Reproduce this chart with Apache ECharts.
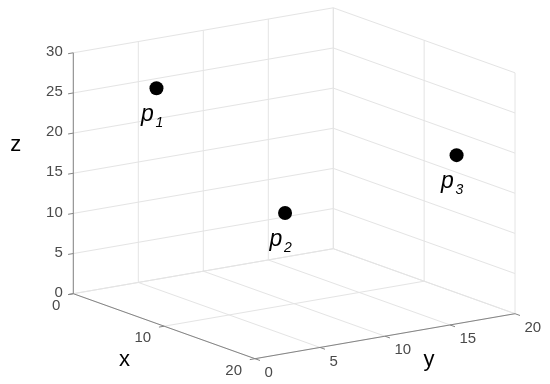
<!DOCTYPE html>
<html>
<head>
<meta charset="utf-8">
<script src="https://cdn.jsdelivr.net/npm/echarts@6/dist/echarts.min.js"></script>
<style>
  html, body { margin: 0; padding: 0; background: #fff; }
  #chart { width: 550px; height: 384px; }
</style>
</head>
<body>
<div id="chart"></div>
<script>
// tick values of the three axes
const xTicks = [0, 10, 20];
const yTicks = [0, 5, 10, 15, 20];
const zTicks = [0, 5, 10, 15, 20, 25, 30];

// the three points p1, p2, p3
const pointIds = ['1', '2', '3'];
const pointX = [2, 10, 15];
const pointY = [5, 9.3, 19];
const pointZ = [25, 11.5, 18];

const FONT = '"Liberation Sans", Arial, Helvetica, sans-serif';
const GRID_COLOR = '#e4e4e4';
const AXIS_COLOR = '#858585';
const LABEL_COLOR = '#4a4a4a';

// oblique view: screen pixels per data unit (y up)
const EX = [9.085, -3.25];
const EY = [13, 2.25];
const EZ = [0, 8.03];
function proj(x, y, z) {
    return [x * EX[0] + y * EY[0] + z * EZ[0], x * EX[1] + y * EY[1] + z * EZ[1]];
}

const xMax = xTicks[xTicks.length - 1];
const yMax = yTicks[yTicks.length - 1];
const zMax = zTicks[zTicks.length - 1];

// grid lines on the two back walls and the floor
const segments = [];
zTicks.forEach(z => segments.push([0, 0, z, 0, yMax, z]));
yTicks.forEach(y => segments.push([0, y, 0, 0, y, zMax]));
zTicks.forEach(z => segments.push([0, yMax, z, xMax, yMax, z]));
xTicks.forEach(x => segments.push([x, yMax, 0, x, yMax, zMax]));
xTicks.forEach(x => segments.push([x, 0, 0, x, yMax, 0]));
yTicks.forEach(y => segments.push([0, y, 0, xMax, y, 0]));

function pt(api, x, y, z) {
    return api.coord(proj(x, y, z));
}

function lineEl(a, b, color) {
    return {
        type: 'line',
        shape: { x1: a[0], y1: a[1], x2: b[0], y2: b[1] },
        style: { stroke: color, lineWidth: 1 }
    };
}

function textEl(text, x, y, opts) {
    return {
        type: 'text',
        style: Object.assign({
            text: text, x: x, y: y,
            fill: LABEL_COLOR,
            font: '15px ' + FONT,
            align: 'center', textAlign: 'center',
            verticalAlign: 'middle', textVerticalAlign: 'middle'
        }, opts)
    };
}

// one series per axis: axis line, ticks and tick labels
function axisSeries(ticks, at, tickEnd, labelDx, labelDy, align) {
    return {
        type: 'custom',
        coordinateSystem: 'cartesian2d',
        silent: true,
        data: ticks.map(t => [t, 0]),
        renderItem: function (params, api) {
            const t = api.value(0);
            const a = pt.apply(null, [api].concat(at(t)));
            const b = pt.apply(null, [api].concat(tickEnd(t)));
            const children = [
                lineEl(a, b, AXIS_COLOR),
                textEl(String(t), a[0] + labelDx, a[1] + labelDy, { align: align, textAlign: align })
            ];
            if (params.dataIndex === 0) {
                const s = pt.apply(null, [api].concat(at(ticks[0])));
                const e = pt.apply(null, [api].concat(at(ticks[ticks.length - 1])));
                children.push(lineEl(s, e, AXIS_COLOR));
            }
            return { type: 'group', children: children };
        }
    };
}

const chart = echarts.init(document.getElementById('chart'));

chart.setOption({
    animation: false,
    backgroundColor: '#fff',
    grid: { left: 0, right: 0, top: 0, bottom: 0 },
    xAxis: { type: 'value', min: -73.3, max: 476.7, show: false },
    yAxis: { type: 'value', min: -90.3, max: 293.7, show: false },
    graphic: [
        { type: 'text', x: 15.7, y: 145, style: { text: 'z', font: '22px ' + FONT, fill: '#000', textAlign: 'center', textVerticalAlign: 'middle' } },
        { type: 'text', x: 124.5, y: 360, style: { text: 'x', font: '22px ' + FONT, fill: '#000', textAlign: 'center', textVerticalAlign: 'middle' } },
        { type: 'text', x: 429, y: 360, style: { text: 'y', font: '22px ' + FONT, fill: '#000', textAlign: 'center', textVerticalAlign: 'middle' } }
    ],
    series: [
        {
            type: 'custom',
            coordinateSystem: 'cartesian2d',
            silent: true,
            data: segments,
            renderItem: function (params, api) {
                const a = pt(api, api.value(0), api.value(1), api.value(2));
                const b = pt(api, api.value(3), api.value(4), api.value(5));
                return lineEl(a, b, GRID_COLOR);
            }
        },
        axisSeries(zTicks, t => [0, 0, t], t => [0, -0.4, t], -10.5, -1, 'right'),
        axisSeries(xTicks, t => [t, 0, 0], t => [t, -0.4, 0], -13, 12, 'right'),
        axisSeries(yTicks, t => [xMax, t, 0], t => [xMax + 0.55, t, 0], 9.5, 14, 'left'),
        {
            type: 'custom',
            coordinateSystem: 'cartesian2d',
            silent: true,
            data: pointX.map((x, i) => [x, pointY[i], pointZ[i], i]),
            renderItem: function (params, api) {
                const c = pt(api, api.value(0), api.value(1), api.value(2));
                const id = pointIds[api.value(3)];
                return {
                    type: 'group',
                    children: [
                        { type: 'circle', shape: { cx: c[0], cy: c[1], r: 7 }, style: { fill: '#000' } },
                        textEl('p', c[0] - 15.5, c[1] + 26.5, { font: 'italic 23px ' + FONT, fill: '#000', align: 'left', textAlign: 'left' }),
                        textEl(id, c[0] - 1, c[1] + 35, { font: 'italic 14px ' + FONT, fill: '#000', align: 'left', textAlign: 'left' })
                    ]
                };
            }
        }
    ]
});
</script>
</body>
</html>
